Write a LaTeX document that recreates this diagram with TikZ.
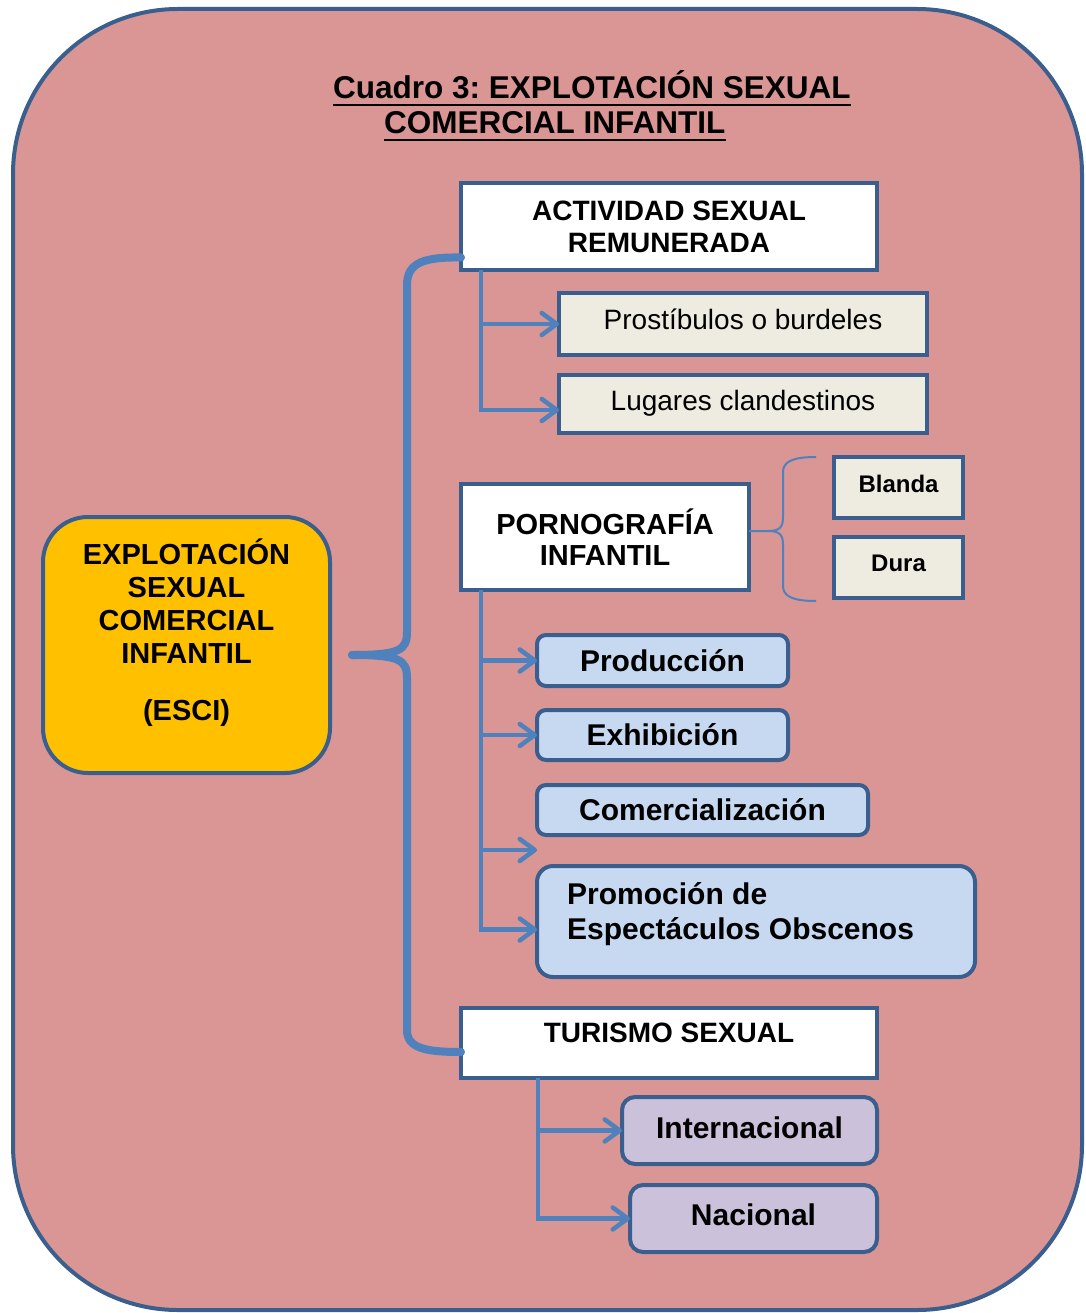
\documentclass[tikz,border=0pt]{standalone}
\usepackage{fontspec}
\setmainfont{Liberation Sans}
\usetikzlibrary{arrows.meta}
\frenchspacing
\definecolor{bgpink}{HTML}{D99694}
\definecolor{bordc}{HTML}{3A5F8E}
\definecolor{connc}{HTML}{4F81BD}
\definecolor{cream}{HTML}{EEECE1}
\definecolor{lblue}{HTML}{C6D9F1}
\definecolor{lav}{HTML}{CCC1DA}
\definecolor{escio}{HTML}{FFC000}
\tikzset{
  outerbox/.style={draw=bordc, fill=bgpink, line width=4pt, rounded corners=165pt},
  box/.style={draw=bordc, line width=4pt, inner sep=0pt, outer sep=0pt, align=center,
    font=\bfseries\fontsize{28}{32}\selectfont},
  whitebox/.style={box, fill=white},
  creambox/.style={box, fill=cream, font=\fontsize{28}{32}\selectfont},
  smallbox/.style={box, fill=cream, font=\bfseries\fontsize{24}{28}\selectfont},
  bluebox/.style={box, fill=lblue, rounded corners=9pt, font=\bfseries\fontsize{30}{35}\selectfont},
  lavbox/.style={box, fill=lav, rounded corners=13pt, font=\bfseries\fontsize{30}{35}\selectfont},
  escibox/.style={box, fill=escio, rounded corners=45pt},
  titlef/.style={anchor=base west, inner sep=0pt, font=\bfseries\fontsize{31.5}{35}\selectfont},
  conn/.style={draw=connc, line width=4.5pt},
  arr/.style={conn, -{Straight Barb[length=15pt,width=22pt,round]}},
  bigb/.style={draw=connc, line width=8pt, line cap=round},
  thinb/.style={draw=connc, line width=2pt}
}
\begin{document}
\begin{tikzpicture}[x=1pt,y=-1pt]
\useasboundingbox (0,0) rectangle (1085,1313);
\draw[outerbox] (13,9) rectangle (1082,1310);

% title
\node[titlef] (t1) at (333,99) {Cuadro 3: EXPLOTACIÓN SEXUAL};
\node[titlef] (t2) at (384,134) {COMERCIAL INFANTIL};
\draw[line width=2.5pt] ([yshift=-6pt]t1.base west) -- ([yshift=-6pt]t1.base east);
\draw[line width=2.5pt] ([yshift=-6pt]t2.base west) -- ([yshift=-6pt]t2.base east);

% boxes
\node[whitebox, minimum width=416pt, minimum height=87pt] (act) at (669,226.5) {ACTIVIDAD SEXUAL\\REMUNERADA};
\node[creambox, minimum width=368pt, minimum height=62pt] (pros) at (743,324) {\raisebox{10pt}{Prostíbulos o burdeles}};
\node[creambox, minimum width=368pt, minimum height=58pt] (lug) at (743,404) {\raisebox{8pt}{Lugares clandestinos}};
\node[whitebox, minimum width=288pt, minimum height=106pt, font=\bfseries\fontsize{29}{31}\selectfont] (porn) at (605,537) {PORNOGRAFÍA\\INFANTIL};
\node[smallbox, minimum width=129pt, minimum height=61pt] (bla) at (898.5,487.5) {\raisebox{8pt}{Blanda}};
\node[smallbox, minimum width=129pt, minimum height=61pt] (dura) at (898.5,567.5) {\raisebox{8pt}{Dura}};
\node[bluebox, minimum width=251pt, minimum height=51pt] (prod) at (662.5,660.5) {Producción};
\node[bluebox, minimum width=251pt, minimum height=50pt] (exh) at (662.5,735) {Exhibición};
\node[bluebox, minimum width=331pt, minimum height=50pt] (com) at (702.5,810) {Comercialización};
\node[bluebox, rounded corners=16pt, minimum width=438pt, minimum height=111pt] (prom) at (756,921.5) {};
\node[anchor=west, align=left, inner sep=0pt, font=\bfseries\fontsize{30}{35}\selectfont] (promt) at (567,914.5) {Promoción de\\Espectáculos Obscenos};
\node[whitebox, minimum width=416pt, minimum height=70pt] (tur) at (669,1043) {\raisebox{20pt}{TURISMO SEXUAL}};
\node[lavbox, minimum width=255pt, minimum height=67pt] (int) at (749.5,1130.5) {\raisebox{6pt}{Internacional}};
\node[lavbox, minimum width=247pt, minimum height=67pt] (nac) at (753.5,1218.5) {\raisebox{8pt}{Nacional}};
\node[escibox, minimum width=287pt, minimum height=256pt] (esci) at (186.5,645) {};
\node[align=center, inner sep=0pt, font=\bfseries\fontsize{29}{33}\selectfont] (escit) at (186.5,633) {EXPLOTACIÓN\\SEXUAL\\COMERCIAL\\INFANTIL\\[24pt](ESCI)};

% connectors: actividad
\coordinate (a1) at ([xshift=20pt]act.south west);
\draw[arr] (a1) |- ([yshift=-6pt]lug.west);
\draw[arr] (a1 |- pros.west) -- (pros.west);

% connectors: pornografia
\coordinate (b1) at ([xshift=20pt]porn.south west);
\coordinate (pw) at ([yshift=-8pt]prom.west);
\draw[arr] (b1) |- (pw);
\draw[arr] (b1 |- prod.west) -- (prod.west);
\draw[arr] (b1 |- exh.west) -- (exh.west);
\coordinate (stub) at (537,850);
\draw[arr] (b1 |- stub) -- (stub);

% brace to blanda / dura
\coordinate (bt) at (816,457);
\coordinate (bb) at (816,601);
\coordinate (cusp) at (768,531);
\draw[thinb] ([yshift=6pt]porn.east) -- (cusp) .. controls (780,531) and (783,527) .. (783,517) -- (783,472) .. controls (783,462) and (792,457) .. (bt);
\draw[thinb] (cusp) .. controls (780,531) and (783,535) .. (783,545) -- (783,586) .. controls (783,596) and (792,601) .. (bb);

% connectors: turismo
\coordinate (c1) at ([xshift=77pt]tur.south west);
\draw[arr] (c1) |- (nac.west);
\draw[arr] (c1 |- int.west) -- (int.west);

% big bracket
\coordinate (tip) at (352,655);
\draw[bigb] ([yshift=-31pt]act.west) .. controls (425,257) and (407,262) .. (407,285) -- (407,632) .. controls (407,650) and (400,655) .. (tip);
\draw[bigb] (tip) .. controls (400,655) and (407,660) .. (407,678) -- (407,1030) .. controls (407,1048) and (425,1052) .. ([yshift=-9pt]tur.west);
\end{tikzpicture}
\end{document}
